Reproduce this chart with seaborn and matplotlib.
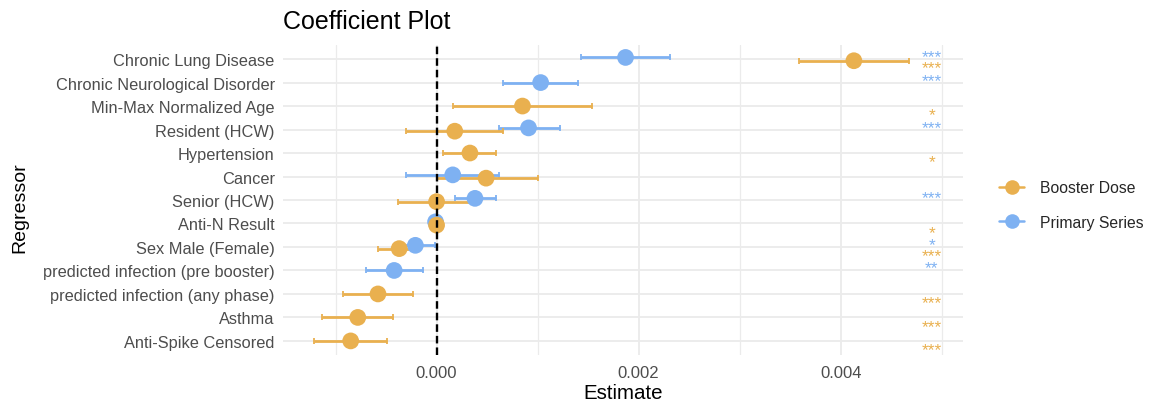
import numpy as np
import matplotlib
matplotlib.use("Agg")
import matplotlib.pyplot as plt
from matplotlib.lines import Line2D
from matplotlib.ticker import FixedLocator, FormatStrFormatter
import pandas as pd
import seaborn as sns

nan = np.nan

regressors = [
    "Chronic Lung Disease",
    "Chronic Neurological Disorder",
    "Min-Max Normalized Age",
    "Resident (HCW)",
    "Hypertension",
    "Cancer",
    "Senior (HCW)",
    "Anti-N Result",
    "Sex Male (Female)",
    "predicted infection (pre booster)",
    "predicted infection (any phase)",
    "Asthma",
    "Anti-Spike Censored",
]

primary_est = [0.00187, 0.00103, nan, 0.00091, nan, 0.00016, 0.00038,
               -0.00001, -0.00021, -0.00042, nan, nan, nan]
primary_lo = [0.00143, 0.00066, nan, 0.00062, nan, -0.00030, 0.00018,
              -0.00002, -0.00040, -0.00070, nan, nan, nan]
primary_hi = [0.00231, 0.00140, nan, 0.00122, nan, 0.00062, 0.00059,
              0.00000, -0.00002, -0.00013, nan, nan, nan]
primary_stars = ["***", "***", "", "***", "", "", "***", "", "*", "**", "", "", ""]

booster_est = [0.00413, nan, 0.00085, 0.00018, 0.00033, 0.00049, 0.00000,
               0.00000, -0.00037, nan, -0.00058, -0.00078, -0.00085]
booster_lo = [0.00359, nan, 0.00016, -0.00030, 0.00006, 0.00000, -0.00038,
              -0.00001, -0.00058, nan, -0.00093, -0.00113, -0.00121]
booster_hi = [0.00468, nan, 0.00154, 0.00066, 0.00059, 0.00100, 0.00040,
              0.00001, -0.00018, nan, -0.00023, -0.00043, -0.00049]
booster_stars = ["***", "", "*", "", "*", "", "", "*", "***", "", "***", "***", "***"]

star_x = 0.0049

ORANGE = "#E9B04F"
BLUE = "#7EB1F2"

rows = []
for i, reg in enumerate(regressors):
    both = not (np.isnan(primary_est[i]) or np.isnan(booster_est[i]))
    for model, est, lo, hi, stars, off in [
        ("Primary Series", primary_est, primary_lo, primary_hi, primary_stars, -0.07),
        ("Booster Dose", booster_est, booster_lo, booster_hi, booster_stars, 0.07),
    ]:
        rows.append({
            "Regressor": reg, "Model": model, "row": i,
            "pos": i + (off if both else 0.0),
            "Estimate": est[i], "lo": lo[i], "hi": hi[i], "stars": stars[i],
        })
df = pd.DataFrame(rows)

sns.set_theme(style="whitegrid")
plt.rcParams["font.family"] = ["Liberation Sans", "DejaVu Sans"]

fig = plt.figure(figsize=(11.64, 4.02), dpi=100)
ax = fig.add_axes([283 / 1164, 1 - 356 / 402, (963 - 283) / 1164, (356 - 46) / 402])

palette = {"Booster Dose": ORANGE, "Primary Series": BLUE}
for model in ["Primary Series", "Booster Dose"]:
    sub = df[(df["Model"] == model) & df["Estimate"].notna()]
    ax.errorbar(sub["Estimate"], sub["pos"],
                xerr=[sub["Estimate"] - sub["lo"], sub["hi"] - sub["Estimate"]],
                fmt="none", ecolor=palette[model], elinewidth=2.0,
                capsize=2.2, capthick=1.3, zorder=3)
    sns.scatterplot(data=sub, x="Estimate", y="pos", color=palette[model],
                    s=145, edgecolor="none", linewidth=0, ax=ax,
                    legend=False, zorder=4)

# significance stars
for _, r in df.iterrows():
    if r["stars"]:
        off = -0.27 if r["Model"] == "Primary Series" else 0.21
        ax.text(star_x, r["row"] + off + 0.36, r["stars"], color=palette[r["Model"]],
                ha="center", va="baseline", fontsize=12.5, zorder=5)

ax.axvline(0, color="black", lw=1.7, linestyle=(0, (3.2, 1.7)), zorder=6)

ax.set_xlim(-0.00152, 0.00521)
ax.set_ylim(len(regressors) - 0.4, -0.6)
ax.set_yticks(range(len(regressors)))
ax.set_yticklabels(regressors)
ax.xaxis.set_major_locator(FixedLocator([0.0, 0.002, 0.004]))
ax.xaxis.set_minor_locator(FixedLocator([-0.001, 0.001, 0.003, 0.005]))
ax.xaxis.set_major_formatter(FormatStrFormatter("%.3f"))

ax.grid(which="major", color="#EBEBEB", lw=1.3)
ax.grid(which="minor", axis="x", color="#EBEBEB", lw=0.9)
ax.set_axisbelow(True)
for s in ax.spines.values():
    s.set_visible(False)
ax.tick_params(axis="both", which="both", length=0, labelcolor="#4D4D4D")
ax.tick_params(axis="x", labelsize=12, pad=7)
ax.tick_params(axis="y", labelsize=11.8, pad=6)

ax.set_xlabel("Estimate", fontsize=14.8, color="black")
ax.set_ylabel("Regressor", fontsize=14, color="black")
ax.xaxis.set_label_coords(0.5, -(384 - 356) / 310)
ax.yaxis.set_label_coords(-(283 - 28) / 680, 0.48)

fig.text(283 / 1164, 1 - 22 / 402, "Coefficient Plot", fontsize=18,
         ha="left", va="center", color="black")

handles = [
    Line2D([0], [0], color=ORANGE, lw=1.8, marker="o", markersize=10.5,
           markeredgewidth=0, label="Booster Dose"),
    Line2D([0], [0], color=BLUE, lw=1.8, marker="o", markersize=10.5,
           markeredgewidth=0, label="Primary Series"),
]
fig.legend(handles=handles, loc="center left", bbox_to_anchor=(985 / 1164, 1 - 206 / 402),
           frameon=False, fontsize=11.3, handlelength=1.6, labelspacing=1.25,
           handletextpad=1.0)

fig.savefig("out.png", dpi=100)
